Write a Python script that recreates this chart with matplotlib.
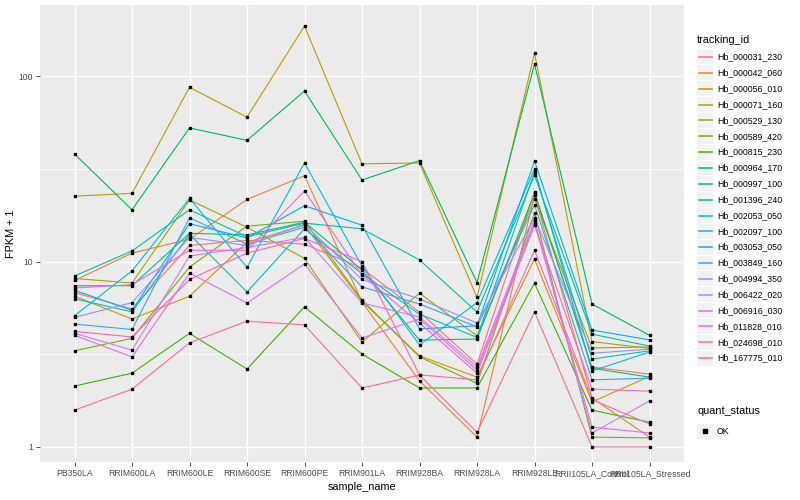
import numpy as np
import matplotlib
matplotlib.use("Agg")
import matplotlib.pyplot as plt
from matplotlib.patches import Rectangle

plt.rcParams['font.family'] = ['Liberation Sans', 'DejaVu Sans']

samples = ["PB350LA", "RRIM600LA", "RRIM600LE", "RRIM600SE", "RRIM600PE",
           "RRIM901LA", "RRIM928BA", "RRIM928LA", "RRIM928LE",
           "RRII105LA_Control", "RRII105LA_Stressed"]

tracking_ids = ["Hb_000031_230", "Hb_000042_060", "Hb_000056_010", "Hb_000071_160",
                "Hb_000529_130", "Hb_000589_420", "Hb_000815_230", "Hb_000964_170",
                "Hb_000997_100", "Hb_001396_240", "Hb_002053_050", "Hb_002097_100",
                "Hb_003053_050", "Hb_003849_160", "Hb_004994_350", "Hb_006422_020",
                "Hb_006916_030", "Hb_011828_010", "Hb_024698_010", "Hb_167775_010"]

# FPKM + 1, one list per gene, in sample order
hb_000031_230 = [6.8, 5.55, 12.2, 13.0, 12.4, 9.2, 5.34, 2.8, 23.7, 2.7, 2.47]
hb_000042_060 = [7.9, 11.1, 13.2, 21.6, 29.0, 6.05, 2.27, 1.13, 22.8, 1.84, 1.13]
hb_000056_010 = [6.5, 4.9, 6.5, 12.7, 15.7, 6.1, 3.1, 2.38, 10.3, 1.75, 2.4]
hb_000071_160 = [22.5, 23.3, 87.0, 60.0, 186.0, 33.6, 34.0, 6.4, 133.0, 3.7, 3.4]
hb_000529_130 = [8.1, 7.66, 21.5, 15.3, 10.4, 3.68, 6.75, 3.97, 21.7, 3.42, 3.46]
hb_000589_420 = [3.3, 3.85, 9.34, 15.5, 16.5, 6.2, 3.06, 2.2, 18.3, 1.13, 1.12]
hb_000815_230 = [2.13, 2.5, 4.1, 2.63, 5.7, 3.17, 2.08, 2.08, 7.65, 1.58, 1.36]
hb_000964_170 = [38.0, 19.0, 52.5, 45.0, 83.0, 27.5, 35.0, 7.7, 116.0, 5.9, 4.0]
hb_000997_100 = [7.4, 7.4, 14.2, 13.9, 16.3, 9.0, 3.77, 3.82, 23.3, 2.66, 2.38]
hb_001396_240 = [8.35, 11.4, 19.0, 13.6, 16.1, 15.0, 10.2, 5.34, 29.2, 4.06, 3.5]
hb_002053_050 = [6.3, 5.35, 14.0, 6.85, 15.0, 8.6, 5.2, 3.9, 30.4, 2.98, 3.3]
hb_002097_100 = [5.1, 8.9, 21.9, 9.3, 34.0, 9.45, 3.55, 6.0, 31.5, 2.57, 3.25]
hb_003053_050 = [7.0, 5.45, 16.0, 13.4, 20.0, 15.7, 4.33, 4.5, 34.8, 4.27, 3.78]
hb_003849_160 = [4.6, 4.3, 17.2, 12.4, 15.3, 7.3, 5.9, 4.44, 20.2, 2.3, 2.35]
hb_004994_350 = [5.0, 6.0, 13.5, 12.2, 15.9, 8.0, 6.28, 4.66, 17.2, 3.2, 3.37]
hb_006422_020 = [4.1, 3.33, 10.7, 11.9, 13.5, 5.98, 5.02, 2.7, 16.7, 1.19, 1.77]
hb_006916_030 = [4.0, 3.06, 8.66, 5.98, 9.7, 3.87, 4.9, 2.6, 16.1, 1.28, 1.19]
hb_011828_010 = [7.2, 7.5, 11.5, 11.5, 24.0, 8.45, 4.66, 2.5, 15.7, 2.05, 2.0]
hb_024698_010 = [4.2, 3.92, 8.0, 11.1, 13.3, 10.0, 2.45, 2.3, 11.5, 1.8, 1.33]
hb_167775_010 = [1.58, 2.05, 3.64, 4.77, 4.55, 2.08, 2.44, 1.2, 5.35, 1.0, 1.0]

series = [hb_000031_230, hb_000042_060, hb_000056_010, hb_000071_160, hb_000529_130,
          hb_000589_420, hb_000815_230, hb_000964_170, hb_000997_100, hb_001396_240,
          hb_002053_050, hb_002097_100, hb_003053_050, hb_003849_160, hb_004994_350,
          hb_006422_020, hb_006916_030, hb_011828_010, hb_024698_010, hb_167775_010]

# ggplot2 default hue palette, 20 levels
colors = ["#F8766D", "#EA8331", "#D89000", "#C09B00", "#A3A500", "#7CAE00", "#39B600",
          "#00BB4E", "#00BF7D", "#00C1A3", "#00BFC4", "#00BAE0", "#00B0F6", "#35A2FF",
          "#9590FF", "#C77CFF", "#E76BF3", "#FA62DB", "#FF62BC", "#FF6C91"]

fig = plt.figure(figsize=(8, 5), dpi=100)
ax = fig.add_axes([40/800, 38/500, 644/800, 457/500])
ax.set_facecolor("#EBEBEB")
for s in ax.spines.values():
    s.set_visible(False)

x = np.arange(1, len(samples) + 1)
for vals, c in zip(series, colors):
    ax.plot(x, vals, color=c, lw=0.8, zorder=2)
for vals in series:
    ax.plot(x, vals, ls="none", marker="s", ms=2.0, color="black", zorder=3)

ax.set_yscale("log")
ax.set_xlim(0.4, len(samples) + 0.6)
ax.set_ylim(10**-0.081, 10**2.383)
ax.set_yticks([1, 10, 100])
ax.set_yticklabels(["1", "10", "100"])
ax.set_yticks([10**0.5, 10**1.5], minor=True)
ax.yaxis.set_minor_formatter(plt.NullFormatter())
ax.set_xticks(x)
ax.set_xticklabels(samples)

ax.grid(True, which="major", color="white", lw=1.0)
ax.grid(True, which="minor", axis="y", color="white", lw=0.5)
ax.set_axisbelow(True)
ax.tick_params(which="major", length=3, width=0.6, color="#333333",
               labelsize=6.2, labelcolor="#4D4D4D", pad=2)
ax.tick_params(which="minor", length=0)

ax.set_xlabel("sample_name", fontsize=7.8, labelpad=3)
ax.set_ylabel("FPKM + 1", fontsize=7.8, labelpad=2)

# legends drawn in pixel coordinates
lax = fig.add_axes([0, 0, 1, 1], frameon=False)
lax.set_xlim(0, 800)
lax.set_ylim(500, 0)
lax.set_axis_off()

lax.text(697, 40, "tracking_id", fontsize=7.8, va="center", ha="left")
step = 15.85
for i, (tid, c) in enumerate(zip(tracking_ids, colors)):
    yc = 57 + i * step
    lax.add_patch(Rectangle((697, yc - step/2 + 0.5), 16, step - 1,
                            facecolor="#F2F2F2", edgecolor="none", zorder=1))
    lax.plot([698.5, 711.5], [yc, yc], color=c, lw=1.1, zorder=2)
    lax.text(717, yc, tid, fontsize=6.3, va="center", ha="left")

lax.text(697, 411, "quant_status", fontsize=7.8, va="center", ha="left")
lax.add_patch(Rectangle((697, 431 - 7.5), 16, 15, facecolor="#F2F2F2", edgecolor="none"))
lax.plot([705], [431], marker="s", ms=2.2, color="black")
lax.text(717, 431, "OK", fontsize=6.3, va="center", ha="left")

fig.savefig("out.png", dpi=100)
